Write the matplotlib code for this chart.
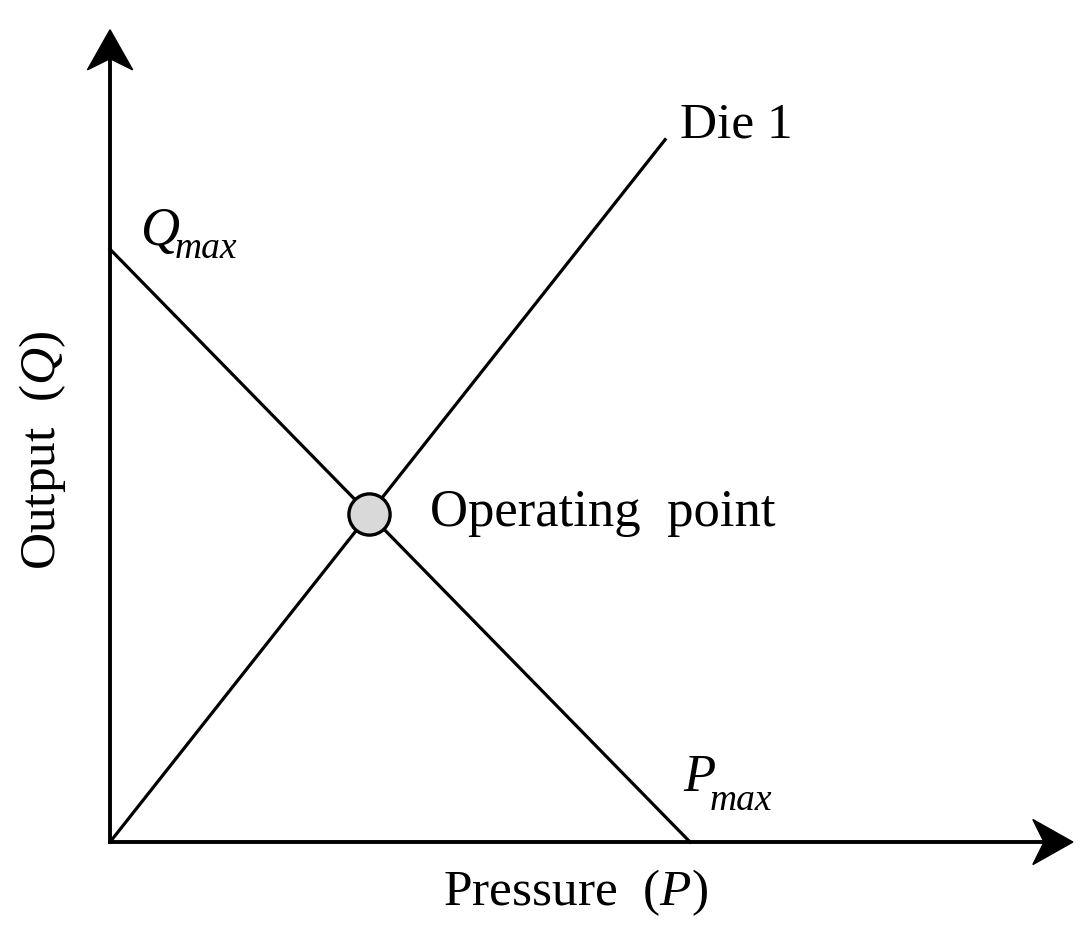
import numpy as np
import matplotlib.pyplot as plt
from matplotlib.patches import Polygon

plt.rcParams['font.family'] = 'Liberation Serif'
plt.rcParams['mathtext.fontset'] = 'custom'
plt.rcParams['mathtext.rm'] = 'Liberation Serif'
plt.rcParams['mathtext.it'] = 'Liberation Serif:italic'

# data (arbitrary units)
q_max = 10.0
p_max = 10.0
die_p = [0.0, 9.57]
die_k = 1.238          # die slope Q/P
p_end = 16.6           # x axis length
q_end = 13.7           # y axis length

screw_p = [0.0, p_max]
screw_q = [q_max, 0.0]
die_q = [die_k * p for p in die_p]
op_p = q_max / (die_k + q_max / p_max)
op_q = die_k * op_p

fig = plt.figure(figsize=(10.81, 9.29), dpi=100)
ax = fig.add_axes([0, 0, 1, 1])
ax.set_xlim(-1.897, 16.74)
ax.set_ylim(-1.45, 14.22)
ax.axis('off')

# axes
ax.plot([0, p_end - 0.4], [0, 0], color='black', lw=2.8, solid_capstyle='butt')
ax.plot([0, 0], [-0.03, q_end - 0.4], color='black', lw=2.8, solid_capstyle='butt')

def head(tip, direction, length, half_w):
    tx, ty = tip
    dx, dy = direction
    nx, ny = -dy, dx
    lx, ly = length
    wx, wy = half_w
    pts = [(tx, ty),
           (tx - dx * lx + nx * wx, ty - dy * ly + ny * wy),
           (tx - dx * lx * 0.72, ty - dy * ly * 0.72),
           (tx - dx * lx - nx * wx, ty - dy * ly - ny * wy)]
    ax.add_patch(Polygon(pts, closed=True, color='black', zorder=5))

head((p_end, 0), (1, 0), (0.69, 0.675), (0.39, 0.38))
head((0, q_end), (0, 1), (0.69, 0.675), (0.39, 0.38))

# characteristics
ax.plot(screw_p, screw_q, color='black', lw=2.3)
ax.plot(die_p, die_q, color='black', lw=2.3)
ax.scatter([op_p], [op_q], s=880, facecolor='#d9d9d9', edgecolor='black',
           linewidth=2.4, zorder=6)

# labels
ax.text(9.83, 12.1, 'Die 1', fontsize=37, va='center', ha='left')
ax.text(0.52, 10.08, 'Q', fontsize=39, fontstyle='italic', va='baseline', ha='left')
ax.text(1.12, 9.87, 'max', fontsize=27, fontstyle='italic', va='baseline', ha='left')
ax.text(9.88, 0.88, 'P', fontsize=38, fontstyle='italic', va='baseline', ha='left')
ax.text(10.34, 0.56, 'max', fontsize=27, fontstyle='italic', va='baseline', ha='left')
ax.text(5.52, 5.56, 'Operating  point', fontsize=38, va='center', ha='left')
ax.text(8.02, -0.84, r'Pressure  ($P$)', fontsize=37, va='center', ha='center')
ax.text(-1.17, 6.63, r'Output  ($Q$)', fontsize=37, va='center', ha='center',
        rotation=90)

fig.savefig('out.png', dpi=100)
